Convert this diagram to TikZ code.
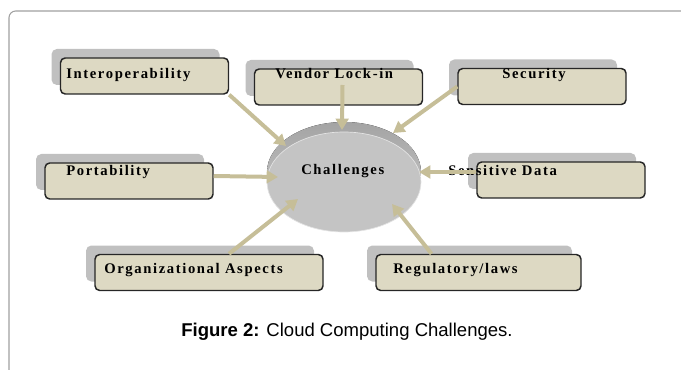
\documentclass[tikz,border=0pt]{standalone}
\usepackage{fontspec}
\usetikzlibrary{arrows.meta,calc,shapes.geometric}
\newfontfamily\lblfam[LetterSpace=11]{Liberation Serif}
\newfontfamily\capfam{Liberation Sans}
\definecolor{boxfill}{HTML}{DDD9C3}
\definecolor{boxline}{HTML}{262626}
\definecolor{shadowgray}{HTML}{C0C0C0}
\definecolor{arrowtan}{HTML}{C6BE98}
\definecolor{facegray}{HTML}{C4C4C4}
\definecolor{rimdark}{HTML}{A4A4A4}
\definecolor{rimlight}{HTML}{CCCCCC}
\definecolor{framegray}{HTML}{A0A0A0}
\tikzset{
  card/.style={draw=boxline, line width=1.1pt, fill=boxfill, rounded corners=3.5pt,
    inner sep=0pt, minimum height=27pt},
  cardshadow/.style={fill=shadowgray, rounded corners=4pt, inner sep=0pt, minimum height=27pt},
  lbl/.style={font=\lblfam\bfseries\fontsize{11}{13}\selectfont, anchor=base west, inner sep=0pt},
  conn/.style={draw=arrowtan, line width=3pt, -{Triangle[length=8.5pt,width=9.5pt]}},
}
\begin{document}
\begin{tikzpicture}[x=0.75pt,y=-0.75pt]
\useasboundingbox (0,0) rectangle (681,370);
% page frame
\draw[framegray, line width=0.8pt, rounded corners=5pt] (690,11) -- (9,11) -- (9,380);

% drop shadows of the boxes
\node[cardshadow, minimum width=126pt] (interS) at (135.5,67) {};
\node[cardshadow, minimum width=126pt] (vendorS) at (329.5,78) {};
\node[cardshadow, minimum width=126pt] (securityS) at (533,77.5) {};
\node[cardshadow, minimum width=126pt] (portS) at (120,172) {};
\node[cardshadow, minimum width=126pt] (sensS) at (552,171) {};
\node[cardshadow, minimum width=171pt] (orgS) at (200,263.5) {};
\node[cardshadow, minimum width=153.75pt] (regS) at (469.5,263.5) {};

% boxes
\node[card, minimum width=126pt] (inter) at (144.5,76) {};
\node[card, minimum width=126pt] (vendor) at (338.5,87) {};
\node[card, minimum width=126pt] (security) at (542,86.5) {};
\node[card, minimum width=126pt] (port) at (129,181) {};
\node[card, minimum width=126pt] (sens) at (561,180) {};
\node[card, minimum width=171pt] (org) at (209,272.5) {};
\node[card, minimum width=153.75pt] (reg) at (478.5,272.5) {};

% central disk: rim, then front face
\fill[top color=rimdark, bottom color=rimlight] (344,172) ellipse [x radius=57.75pt, y radius=37.5pt];
\node[ellipse, fill=facegray, draw=white!55!facegray, line width=0.5pt,
  minimum width=115.5pt, minimum height=75pt, inner sep=0pt] (chal) at (344,182) {};

% labels
\node[lbl] (tInter) at (66,79) {Interoperability};
\node[lbl] (tVendor) at (275,79) {Vendor Lock-in};
\node[lbl] (tSecurity) at (502,79) {Security};
\node[lbl] (tPort) at (66,176) {Portability};
\node[lbl] (tSens) at (448,176) {Sensitive Data};
\node[lbl] (tOrg) at (104,273) {Organizational Aspects};
\node[lbl] (tReg) at (393,273) {Regulatory/laws};
\node[lbl] (tChal) at (301,175) {Challenges};

% connectors into the disk
\draw[conn] (inter.south east) -- ($(chal.center)+(-58,-36)$);
\draw[conn] ($(vendor.center)+(4,-2)$) -- ($(chal.center)+(-2,-52)$);
\draw[conn] (security.west) -- ($(chal.center)+(49,-49)$);
\draw[conn] ($(port.east)+(0,-5)$) -- ($(chal.center)+(-66,-5)$);
\draw[conn] ($(sens.west)+(0,-8)$) -- ($(chal.center)+(75,-10)$);
\draw[conn] ($(org.north)+(20,0)$) -- ($(chal.center)+(-46,17)$);
\draw[conn] ($(reg.north)+(-47,0)$) -- ($(chal.center)+(48,22)$);

% caption
\node[font=\capfam\fontsize{13.9}{16}\selectfont, anchor=base, inner sep=0pt] (caption) at (347,336)
  {\textbf{Figure 2:} Cloud Computing Challenges.};
\end{tikzpicture}
\end{document}
